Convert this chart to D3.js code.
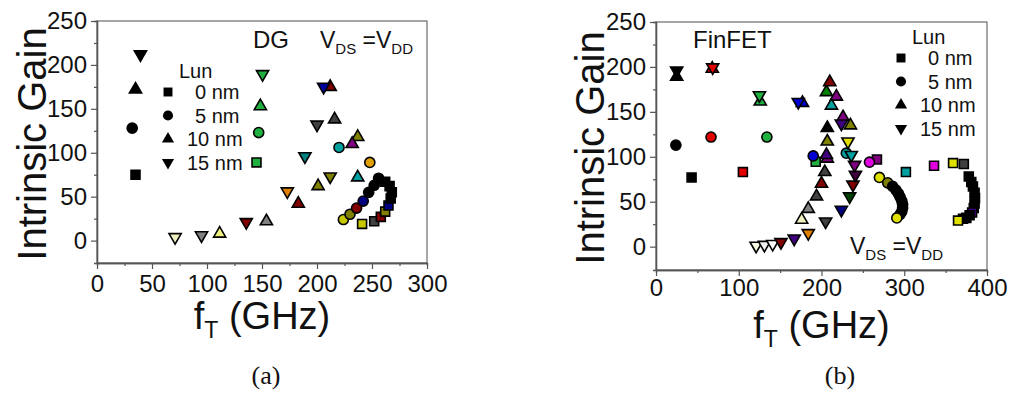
<!DOCTYPE html>
<html>
<head>
<meta charset="utf-8">
<script src="https://cdn.jsdelivr.net/npm/d3@7"></script>
<style>
  body { margin: 0; background: #fff; }
  text { font-family: "Liberation Sans", Arial, sans-serif; fill: #111; }
  text.caption { font-family: "Liberation Serif", "DejaVu Serif", serif; }
</style>
</head>
<body>
<svg id="chart" width="1011" height="394"></svg>
<script>
// ---- data ----
const lunLabels = ["0 nm", "5 nm", "10 nm", "15 nm"];
const lunShapes = ["square", "circle", "up", "down"];

// panel (a) DG : [fT (GHz), intrinsic gain]
const aSquare = [[35,75],[145,89],[241,19],[252,22],[258,27],[262,33],[265,40],[267,48],[268,55],[266,62],[262,67]];
const aCircle = [[32,128],[147,123],[220,106],[248,89],[224,24],[230,30],[236,37],[242,45],[247,55],[252,63],[256,71]];
const aUp = [[35,172],[148.5,153],[111.5,8],[154,22],[183,42],[201,62],[212,175],[216,138],[237,118],[232,110],[237,72]];
const aDown = [[39.5,212],[150.5,189.5],[71,4],[95,6],[135.7,21],[173,56],[189,96],[200,132],[206,175],[212,73]];

// panel (b) FinFET
const bSquare = [[43,77],[105,83],[193,94.5],[267,97],[302,83],[336,90],[359,93],[372,92],
  [378,78],[381,72],[383,67],[385,60],[385.5,54],[385,48],[384,43],[382,38],[379,35],[375,32],[371,31],[365,29]];
const bCircle = [[24,113],[66.5,122],[134,122],[190,101],[230,104],[258,94],[270,77],[280,71],
  [286,67],[290,63],[293,59],[295,55],[297,51],[298,47],[298,43],[297,39],[295,36],[291,32]];
const bUp = [[25,189],[68,198],[126,161.5],[177,160],[176,30],[184,42],[194,56],[200,70],[204,83],[207,98],
  [206,102],[207,117],[207,132],[212,157],[206,172],[210,183],[218,167],[226,144],[235,135]];
const bDown = [[25,196],[68.5,199.5],[125,168.5],[172,161],[121,1],[131,2],[141,3],[151,5],[167,9],[184,15],
  [205,28],[224,41],[234,56],[238,69],[241,80],[240,91],[236,102],[232,117],[224,137]];

// per-point fill colours (Origin palette)
const aSquareColors = ["#000","#20b040","#c8c800","#404040","#800000","#808000","#000080","#000","#000","#000","#000"];
const aCircleColors = ["#000","#20b040","#00a0a0","#e0a000","#c8c800","#808000","#800000","#000080","#000","#000","#000"];
const aUpColors = ["#000","#20b040","#f0f080","#808080","#800000","#808000","#800000","#404040","#808000","#800080","#00a0a0"];
const aDownColors = ["#000","#20b040","#f0f0c0","#808080","#800000","#e08000","#008080","#404040","#0000a0","#808000"];
const bSquareColors = ["#000","#e00000","#20b040","#800080","#00a0a0","#e000e0","#e0e000","#404040",
  "#000","#000","#000","#000","#000","#000","#000","#400080","#000","#000","#000","#e0e000"];
const bCircleColors = ["#000","#e00000","#20b040","#0000d0","#00a0a0","#e000e0","#e0e000","#808000",
  "#000","#000","#000","#000","#000","#000","#000","#000","#000","#e0e000"];
const bUpColors = ["#000","#e00000","#20b040","#0000d0","#f0f0c0","#808080","#404040","#800000","#404040","#800080",
  "#400080","#808000","#000","#00a0a0","#008000","#800000","#800080","#800080","#808000"];
const bDownColors = ["#000","#e00000","#20b040","#0000d0","#f8f8e0","#f0f0f0","#f8f8f8","#800000","#400080","#e08000",
  "#404040","#000080","#004000","#800000","#400040","#800080","#00a0a0","#e0e000","#400080"];

const svg = d3.select("#chart");

function symbolPath(shape, size) {
  const t = shape === "square" ? d3.symbolSquare : shape === "circle" ? d3.symbolCircle : d3.symbolTriangle;
  return d3.symbol().type(t).size(size)();
}
const sizes = { square: 80, circle: 80, up: 64, down: 64 };

function drawPanel(cfg) {
  const x = d3.scaleLinear().domain(cfg.xDomain).range([cfg.left, cfg.right]);
  const y = d3.scaleLinear().domain(cfg.yDomain).range([cfg.bottom, cfg.top]);
  const g = svg.append("g");

  // frame
  g.append("rect")
    .attr("x", cfg.left).attr("y", cfg.top)
    .attr("width", cfg.right - cfg.left).attr("height", cfg.bottom - cfg.top)
    .attr("fill", "none").attr("stroke", "#777").attr("stroke-width", 1.3);

  // axes
  const xAx = g.append("g").attr("transform", `translate(0,${cfg.bottom})`)
    .call(d3.axisBottom(x).tickValues(cfg.xTicks).tickSizeInner(6).tickSizeOuter(0).tickPadding(cfg.xPad));
  g.append("g").attr("transform", `translate(0,${cfg.bottom})`)
    .call(d3.axisBottom(x).tickValues(cfg.xMinor).tickSize(3).tickFormat(""));
  const yAx = g.append("g").attr("transform", `translate(${cfg.left},0)`)
    .call(d3.axisLeft(y).tickValues(d3.range(0, 251, 50)).tickSizeInner(6).tickSizeOuter(0).tickPadding(4));
  g.append("g").attr("transform", `translate(${cfg.left},0)`)
    .call(d3.axisLeft(y).tickValues(d3.range(25, 250, 50)).tickSize(3).tickFormat(""));
  g.selectAll(".domain").attr("stroke", "#555").attr("stroke-width", 1.3);
  g.selectAll(".tick line").attr("stroke", "#555").attr("stroke-width", 1.2);
  [xAx, yAx].forEach(a => a.selectAll("text")
    .attr("font-size", 24).attr("fill", "#222")
    .style("font-family", '"Liberation Sans", Arial, sans-serif'));

  // points
  const series = [cfg.square, cfg.circle, cfg.up, cfg.down];
  const colors = [cfg.squareC, cfg.circleC, cfg.upC, cfg.downC];
  series.forEach((pts, i) => {
    const shape = lunShapes[i];
    g.append("g").selectAll("path").data(pts).join("path")
      .attr("d", symbolPath(shape, sizes[shape]))
      .attr("transform", d => `translate(${x(d[0])},${y(d[1])})` + (shape === "down" ? " rotate(180)" : ""))
      .attr("fill", (d, j) => colors[i][j] || "#000")
      .attr("stroke", "#000").attr("stroke-width", 1.6);
  });

  // legend
  g.append("text").attr("x", cfg.legX + 11).attr("y", cfg.legY - 14)
    .attr("font-size", 20).text("Lun");
  lunLabels.forEach((lab, i) => {
    const yy = cfg.legY + i * cfg.legStep;
    const shape = lunShapes[i];
    g.append("path").attr("d", symbolPath(shape, sizes[shape]))
      .attr("transform", `translate(${cfg.legX},${yy})` + (shape === "down" ? " rotate(180)" : ""))
      .attr("fill", "#000");
    g.append("text").attr("x", cfg.legX + 27 + (i < 2 ? 0 : -8)).attr("y", yy + 7)
      .attr("font-size", 20).text(lab);
  });

  // axis titles
  g.append("text")
    .attr("transform", `translate(${cfg.yTitleX},${(cfg.top + cfg.bottom) / 2 + 2}) rotate(-90)`)
    .attr("text-anchor", "middle").attr("font-size", 40).text("Intrinsic Gain");
  const xt = g.append("text").attr("x", (cfg.left + cfg.right) / 2).attr("y", cfg.xTitleY)
    .attr("text-anchor", "middle").attr("font-size", 38);
  xt.append("tspan").text("f");
  xt.append("tspan").attr("font-size", 23).attr("dy", 9).text("T");
  xt.append("tspan").attr("dy", -9).text(" (GHz)");

  // V_DS = V_DD
  const v = g.append("text").attr("x", cfg.vX).attr("y", cfg.vY).attr("font-size", 23);
  v.append("tspan").text("V");
  v.append("tspan").attr("font-size", 15).attr("dy", 6).text("DS");
  v.append("tspan").attr("dy", -6).text(" =V");
  v.append("tspan").attr("font-size", 15).attr("dy", 6).text("DD");

  // device label
  g.append("text").attr("x", cfg.devX).attr("y", cfg.devY).attr("font-size", 24).text(cfg.device);

  // caption
  g.append("text").attr("class", "caption").attr("x", cfg.capX).attr("y", 384).attr("text-anchor", "middle")
    .attr("font-size", 26).text(cfg.caption);
}

drawPanel({
  left: 97, right: 427, top: 21, bottom: 263,
  xDomain: [0, 300], yDomain: [-25.5, 250],
  xTicks: d3.range(0, 301, 50), xMinor: d3.range(25, 300, 50), xPad: 6,
  square: aSquare, circle: aCircle, up: aUp, down: aDown,
  squareC: aSquareColors, circleC: aCircleColors, upC: aUpColors, downC: aDownColors,
  legX: 168, legY: 92, legStep: 23.5,
  yTitleX: 46, xTitleY: 329,
  vX: 320, vY: 48, devX: 253, devY: 48, device: "DG",
  capX: 266, caption: "(a)"
});

drawPanel({
  left: 656, right: 987, top: 22, bottom: 270,
  xDomain: [0, 400], yDomain: [-26, 250],
  xTicks: d3.range(0, 401, 100), xMinor: d3.range(50, 400, 100), xPad: 3,
  square: bSquare, circle: bCircle, up: bUp, down: bDown,
  squareC: bSquareColors, circleC: bCircleColors, upC: bUpColors, downC: bDownColors,
  legX: 901, legY: 58, legStep: 23.5,
  yTitleX: 604, xTitleY: 338,
  vX: 850, vY: 254, devX: 693, devY: 48, device: "FinFET",
  capX: 840, caption: "(b)"
});
</script>
</body>
</html>
